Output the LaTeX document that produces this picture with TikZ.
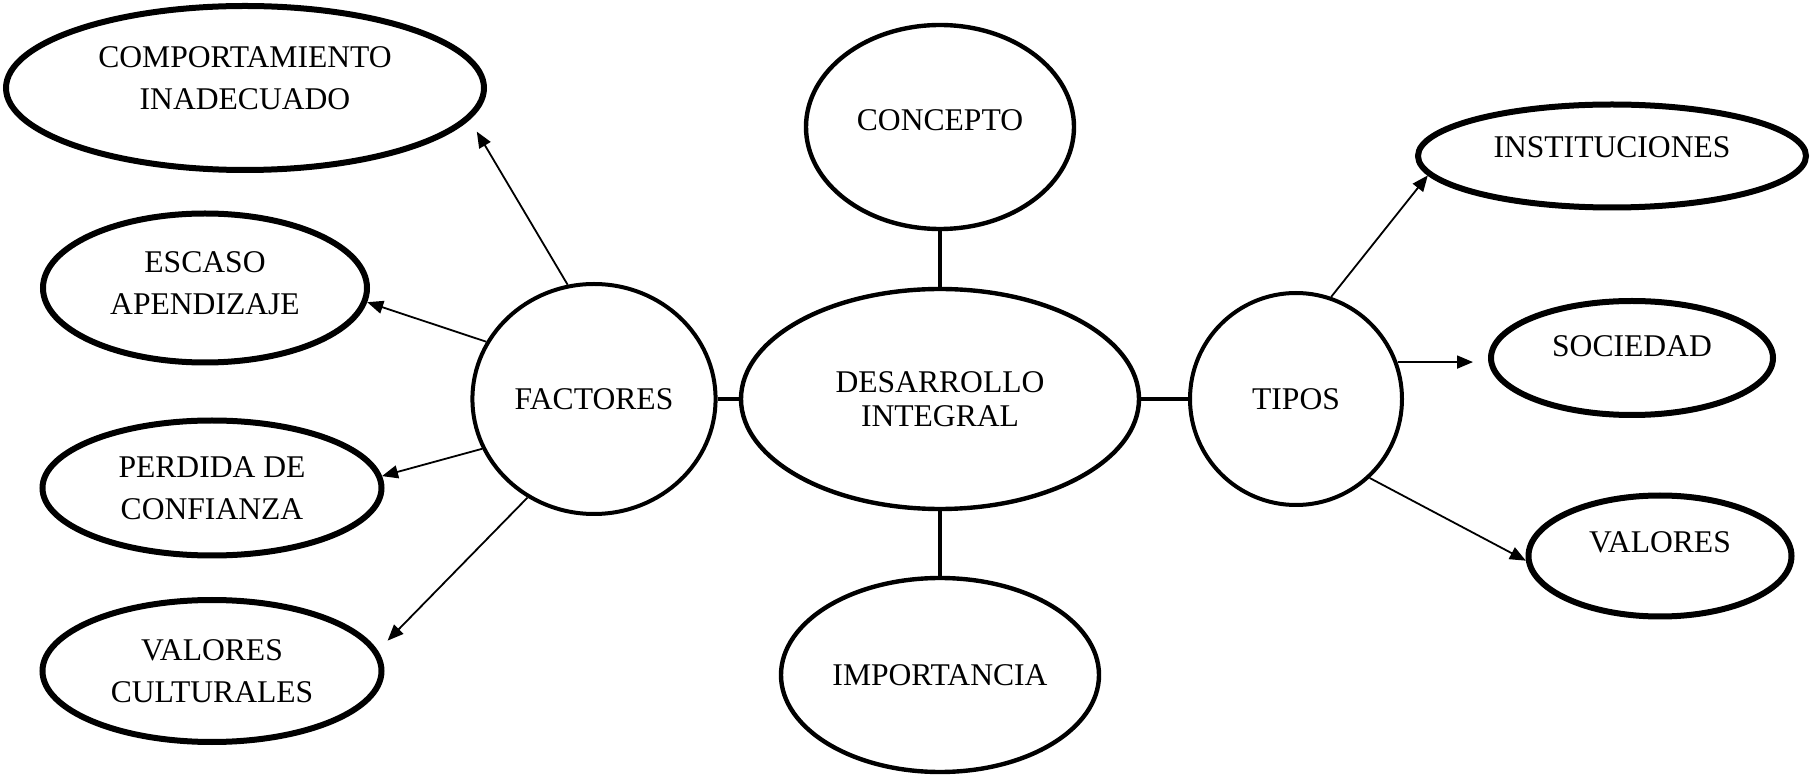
\documentclass[tikz,border=0pt]{standalone}
\usepackage{fontspec}
\setmainfont{Liberation Serif}
\usetikzlibrary{positioning, arrows, arrows.meta, shapes.geometric}

\begin{document}
\begin{tikzpicture}[->,>={Triangle[length=8pt,width=6.5pt]},line width=0.9pt,x=0.5pt,y=-0.5pt,
  big/.style={ellipse,draw,line width=3pt,align=center,inner sep=2pt,font=\fontsize{15.8}{21}\selectfont},
  mid/.style={ellipse,draw,line width=2.2pt,align=center,inner sep=2pt,font=\fontsize{15.8}{16.8}\selectfont},
  hub/.style={ellipse,draw,line width=2pt,minimum size=#1,font=\fontsize{15.8}{21}\selectfont},
  link/.style={-,line width=2.3pt}]
\useasboundingbox (0,0) rectangle (1811,780);

\node[mid,minimum width=199pt,minimum height=110pt] (DI) at (940,399) {DESARROLLO\\INTEGRAL};
\node[mid,minimum width=134pt,minimum height=102pt,text depth=7pt] (CO) at (940,127) {CONCEPTO};
\node[mid,minimum width=159pt,minimum height=97pt] (IM) at (940,675) {IMPORTANCIA};
\node[hub=115pt] (FA) at (594,399) {FACTORES};
\node[hub=106pt] (TI) at (1296,399) {TIPOS};

\node[big,minimum width=239pt,minimum height=82pt,text depth=10pt] (CI) at (245,88) {COMPORTAMIENTO\\INADECUADO};
\node[big,minimum width=162pt,minimum height=74.5pt,text depth=5pt] (EA) at (205,288) {ESCASO\\APENDIZAJE};
\node[big,minimum width=169.5pt,minimum height=67.5pt] (PC) at (212,488) {PERDIDA DE\\CONFIANZA};
\node[big,minimum width=169.5pt,minimum height=71pt] (VC) at (212,671) {VALORES\\CULTURALES};
\node[big,minimum width=194pt,minimum height=51.5pt,text depth=9pt] (IN) at (1612,156) {INSTITUCIONES};
\node[big,minimum width=141pt,minimum height=57pt,text depth=12pt] (SO) at (1632,358) {SOCIEDAD};
\node[big,minimum width=131.5pt,minimum height=60.5pt,text depth=14pt] (VA) at (1660,556) {VALORES};

\draw[link] (DI) -- (CO);
\draw[link] (DI) -- (IM);
\draw[link] (FA) -- (DI);
\draw[link] (DI) -- (TI);

\draw[shorten >=7pt] (FA.103) -- (CI.-8);
\draw (FA.152) -- (EA.-5);
\draw (FA.204) -- (PC.4);
\draw[shorten >=7pt] (FA.-124) -- (VC.7);
\draw (TI.71) -- (IN.186);
\draw[shorten >=7.5pt] (TI.20) -- (TI.20 -| SO.west);
\draw (TI.-47) -- (VA.182);
\end{tikzpicture}
\end{document}
